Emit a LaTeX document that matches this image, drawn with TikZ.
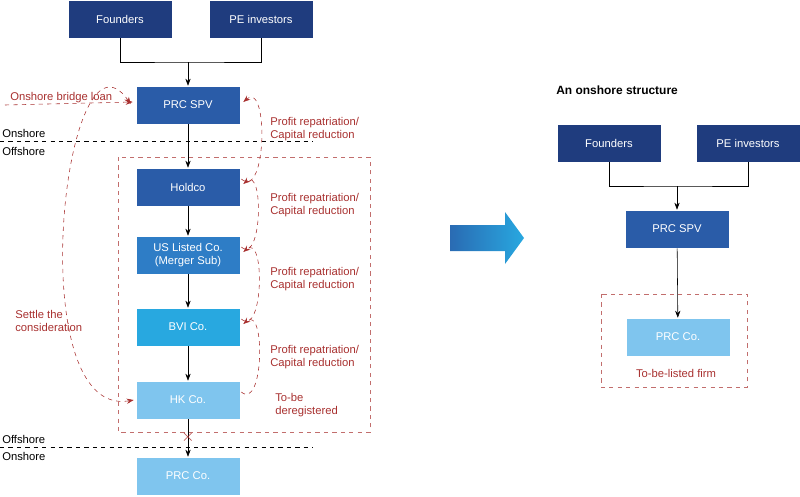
\documentclass[tikz,border=0pt]{standalone}
\usepackage{fontspec}
\setmainfont{Liberation Sans}
\usetikzlibrary{arrows.meta,shadings,calc}
\definecolor{navy}{HTML}{1F3C7E}
\definecolor{royal}{HTML}{2A5CA8}
\definecolor{midblue}{HTML}{2E7DC6}
\definecolor{skyblue}{HTML}{28A8E0}
\definecolor{paleblue}{HTML}{7FC5EE}
\definecolor{rust}{HTML}{A8302F}
\tikzset{
  box/.style={draw=white, minimum width=2.6cm, minimum height=0.95cm, text=white,
    font=\fontsize{8}{9}\selectfont, align=center, inner sep=1pt},
  flow/.style={-{Stealth[length=5pt]}, black},
  redlbl/.style={text=rust, font=\fontsize{8}{9.5}\selectfont, align=left, anchor=west, inner sep=0pt},
  blacklbl/.style={font=\fontsize{8}{9.5}\selectfont, anchor=west, inner sep=0pt},
  redarr/.style={rust, dashed, -{Stealth[length=5pt]}},
  zone/.style={rust!70, dashed},
}
\begin{document}
\begin{tikzpicture}[x=0.025cm, y=-0.025cm]
    \useasboundingbox (0,0) rectangle (800,496);

    % left: offshore structure
    \node[box, fill=navy] (fnd) at (120,19) {Founders};
    \node[box, fill=navy] (pei) at (261,19) {PE investors};
    \node[box, fill=royal] (spv) at (188,105) {PRC SPV};
    \node[box, fill=royal] (hold) at (188,187) {Holdco};
    \node[box, fill=midblue] (us) at (188,255) {US Listed Co.\\(Merger Sub)};
    \node[box, fill=skyblue] (bvi) at (188,327) {BVI Co.};
    \node[box, fill=paleblue] (hk) at (188,400) {HK Co.};
    \node[box, fill=paleblue] (prc) at (188,476) {PRC Co.};

    \draw (fnd.south) |- (188,62) -| (pei.south);
    \draw[flow] (188,62) -- (spv.north);
    \draw[flow] (spv) -- (hold);
    \draw[flow] (hold) -- (us);
    \draw[flow] (us) -- (bvi);
    \draw[flow] (bvi) -- (hk);
    \draw[flow] (hk) -- (prc);
    \node[text=rust, font=\bfseries\large, inner sep=0pt] (cross) at (188,437) {$\times$};

    % borders
    \draw[dashed] (0,141) -- (313,141);
    \node[blacklbl] at (2,133) {Onshore};
    \node[blacklbl] at (2,151) {Offshore};
    \draw[dashed] (0,447) -- (313,447);
    \node[blacklbl] at (2,439) {Offshore};
    \node[blacklbl] at (2,456) {Onshore};
    \draw[zone] (118,157) rectangle (370,432);
    \node[redlbl] at (275,405) {To-be\\deregistered};

    % repatriation arrows
    \foreach \lo/\hi in {hold/spv, us/hold, bvi/us, hk/bvi}
        \draw[redarr] ($(\lo.east)+(1,-8)$) to[out=-40, in=40, looseness=1.1] ($(\hi.east)+(3,-3)$);
    \foreach \ly in {129,205,279,357}
        \node[redlbl] at (270,\ly) {Profit repatriation/\\Capital reduction};

    % bridge loan
    \coordinate (loan) at (5,105);
    \draw[redarr] (loan) -- ($(spv.west)+(-3,-3)$);
    \node[redlbl] at (10,98) {Onshore bridge loan};
    \draw[rust, dashed, {Stealth[length=5pt]}-{Stealth[length=5pt]}] ($(spv.west)+(-5,-1)$) to[out=125, in=190, looseness=1] ($(hk.west)+(-2,0)$);
    \node[redlbl] at (15,321) {Settle the\\consideration};

    % big arrow
    \shade[left color=royal!80!skyblue, right color=skyblue]
        (450,225) -- (505,225) -- (505,212) -- (524,238) -- (505,264) -- (505,251) -- (450,251) -- cycle;

    % right: onshore structure
    \node[blacklbl, font=\bfseries\fontsize{8.5}{10}\selectfont] at (556,90) {An onshore structure};
    \node[box, fill=navy] (fnd2) at (609,143) {Founders};
    \node[box, fill=navy] (pei2) at (748,143) {PE investors};
    \node[box, fill=royal] (spv2) at (677,229) {PRC SPV};
    \node[box, fill=paleblue] (prc2) at (678,337) {PRC Co.};
    \draw (fnd2.south) |- (677,186) -| (pei2.south);
    \draw[flow] (677,186) -- (spv2.north);
    \draw[flow] (spv2) -- (prc2);
    \draw[zone] (601,294) rectangle (747,387);
    \node[text=rust, font=\fontsize{8}{9.5}\selectfont] at (676,373) {To-be-listed firm};
\end{tikzpicture}
\end{document}
